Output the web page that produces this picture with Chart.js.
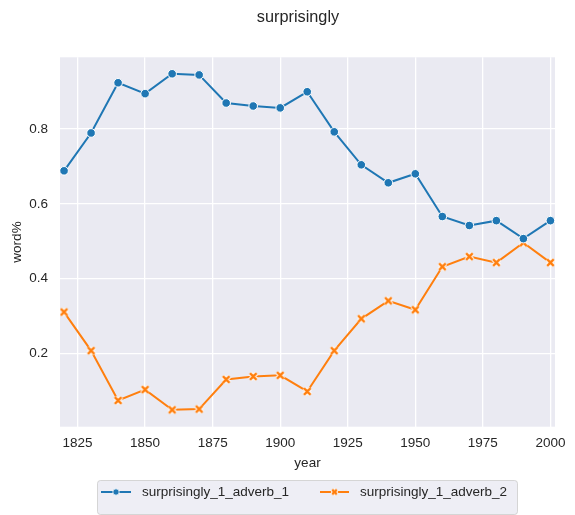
<!DOCTYPE html>
<html lang="en">
<head>
<meta charset="UTF-8">
<title>surprisingly</title>
<style>
  html, body { margin: 0; padding: 0; background: #fff; }
  #wrap { width: 575px; height: 515px; position: relative; }
</style>
</head>
<body>
<div id="wrap"><canvas id="chart" width="575" height="515"></canvas></div>

<script src="https://cdn.jsdelivr.net/npm/chart.js@4.4.1/dist/chart.umd.min.js"></script>
<script>
  const years = [1820, 1830, 1840, 1850, 1860, 1870, 1880, 1890, 1900, 1910,
                 1920, 1930, 1940, 1950, 1960, 1970, 1980, 1990, 2000];
  const adverb1 = [0.688, 0.789, 0.923, 0.894, 0.947, 0.944, 0.869, 0.861, 0.856, 0.899,
                   0.792, 0.704, 0.656, 0.680, 0.566, 0.542, 0.555, 0.507, 0.555];
  const adverb2 = [0.311, 0.208, 0.075, 0.104, 0.050, 0.052, 0.131, 0.139, 0.142, 0.099,
                   0.208, 0.293, 0.341, 0.317, 0.432, 0.459, 0.443, 0.496, 0.443];
  const seriesNames = ['surprisingly_1_adverb_1', 'surprisingly_1_adverb_2'];
  const xTicks = [1825, 1850, 1875, 1900, 1925, 1950, 1975, 2000];
  const yTicks = [0.2, 0.4, 0.6, 0.8];

  const FONT = '"Liberation Sans", Arial, sans-serif';
  const TXT = '#262626';
  const BLUE = '#1f77b4';
  const ORANGE = '#ff7f0e';

  // filled "X" marker like seaborn's, white edged
  function makeX(size) {
    const c = document.createElement('canvas');
    c.width = size; c.height = size;
    const g = c.getContext('2d');
    const m = size / 2, a = size / 2 - 2.2;
    g.lineCap = 'butt';
    g.beginPath();
    g.moveTo(m - a, m - a); g.lineTo(m + a, m + a);
    g.moveTo(m + a, m - a); g.lineTo(m - a, m + a);
    g.strokeStyle = '#fff'; g.lineWidth = 4.4; g.stroke();
    g.strokeStyle = ORANGE; g.lineWidth = 2.4; g.stroke();
    return c;
  }
  const xMarker = makeX(11);

  const bgPlugin = {
    id: 'bg',
    beforeDraw(chart) {
      const {ctx, chartArea: a} = chart;
      ctx.save();
      ctx.fillStyle = '#eaeaf2';
      ctx.fillRect(a.left, a.top, a.right - a.left, a.bottom - a.top);
      ctx.restore();
    }
  };

  const decoPlugin = {
    id: 'deco',
    afterDraw(chart) {
      const ctx = chart.ctx;
      ctx.save();
      // suptitle
      ctx.fillStyle = TXT;
      ctx.font = '16.3px ' + FONT;
      ctx.textAlign = 'center';
      ctx.textBaseline = 'middle';
      ctx.fillText('surprisingly', 298, 18);

      // legend box
      const bx = 97.5, by = 480.5, bw = 420, bh = 34, r = 3;
      ctx.beginPath();
      ctx.roundRect(bx, by, bw, bh, r);
      ctx.fillStyle = 'rgba(234,234,242,0.8)';
      ctx.fill();
      ctx.strokeStyle = 'rgba(204,204,204,0.8)';
      ctx.lineWidth = 1;
      ctx.stroke();

      const ly = 492;
      ctx.font = '13.5px ' + FONT;
      ctx.textAlign = 'left';
      // item 1
      ctx.strokeStyle = BLUE; ctx.lineWidth = 2;
      ctx.beginPath(); ctx.moveTo(101, ly); ctx.lineTo(131, ly); ctx.stroke();
      ctx.beginPath(); ctx.arc(116, ly, 3.2, 0, Math.PI * 2);
      ctx.fillStyle = BLUE; ctx.fill();
      ctx.strokeStyle = '#fff'; ctx.lineWidth = 0.8; ctx.stroke();
      ctx.fillStyle = TXT;
      ctx.fillText(seriesNames[0], 142, ly + 0.5);
      // item 2
      ctx.strokeStyle = ORANGE; ctx.lineWidth = 2;
      ctx.beginPath(); ctx.moveTo(320, ly); ctx.lineTo(349, ly); ctx.stroke();
      ctx.drawImage(makeX(9), 334.5 - 4.5, ly - 4.5);
      ctx.fillStyle = TXT;
      ctx.fillText(seriesNames[1], 360, ly + 0.5);
      ctx.restore();
    }
  };

  new Chart(document.getElementById('chart'), {
    type: 'line',
    data: {
      labels: years,
      datasets: [
        {
          label: seriesNames[0],
          data: years.map((y, i) => ({x: y, y: adverb1[i]})),
          borderColor: BLUE,
          backgroundColor: BLUE,
          borderWidth: 2,
          pointStyle: 'circle',
          pointRadius: 4.3,
          pointBorderColor: '#fff',
          pointBorderWidth: 1,
          pointBackgroundColor: BLUE,
          tension: 0
        },
        {
          label: seriesNames[1],
          data: years.map((y, i) => ({x: y, y: adverb2[i]})),
          borderColor: ORANGE,
          backgroundColor: ORANGE,
          borderWidth: 2,
          pointStyle: xMarker,
          pointRadius: 5,
          tension: 0
        }
      ]
    },
    options: {
      responsive: false,
      animation: false,
      devicePixelRatio: 1,
      layout: { padding: { left: 0, right: 20, top: 57.3, bottom: 40.3 } },
      plugins: {
        legend: { display: false },
        title: { display: false },
        tooltip: { enabled: false }
      },
      scales: {
        x: {
          type: 'linear',
          min: 1818.5,
          max: 2001.7,
          afterBuildTicks(s) { s.ticks = xTicks.map(v => ({value: v})); },
          afterFit(s) { s.height = 48; },
          grid: { color: '#ffffff', lineWidth: 1.3, drawTicks: false },
          border: { display: false },
          ticks: {
            padding: 8,
            color: TXT,
            font: { family: FONT, size: 13.5 },
            maxRotation: 0,
            callback: v => String(v)
          },
          title: {
            display: true,
            text: 'year',
            color: TXT,
            font: { family: FONT, size: 13.5 },
            padding: { top: 0, bottom: 3 }
          }
        },
        y: {
          type: 'linear',
          min: 0.005,
          max: 0.991,
          afterBuildTicks(s) { s.ticks = yTicks.map(v => ({value: v})); },
          afterFit(s) { s.width = 60; },
          grid: { color: '#ffffff', lineWidth: 1.3, drawTicks: false },
          border: { display: false },
          ticks: {
            padding: 12,
            color: TXT,
            font: { family: FONT, size: 13.5 },
            callback: v => v.toFixed(1)
          },
          title: {
            display: true,
            text: 'word%',
            color: TXT,
            font: { family: FONT, size: 13.5 },
            padding: { top: 9, bottom: 0 }
          }
        }
      }
    },
    plugins: [bgPlugin, decoPlugin]
  });
</script>
</body>
</html>
